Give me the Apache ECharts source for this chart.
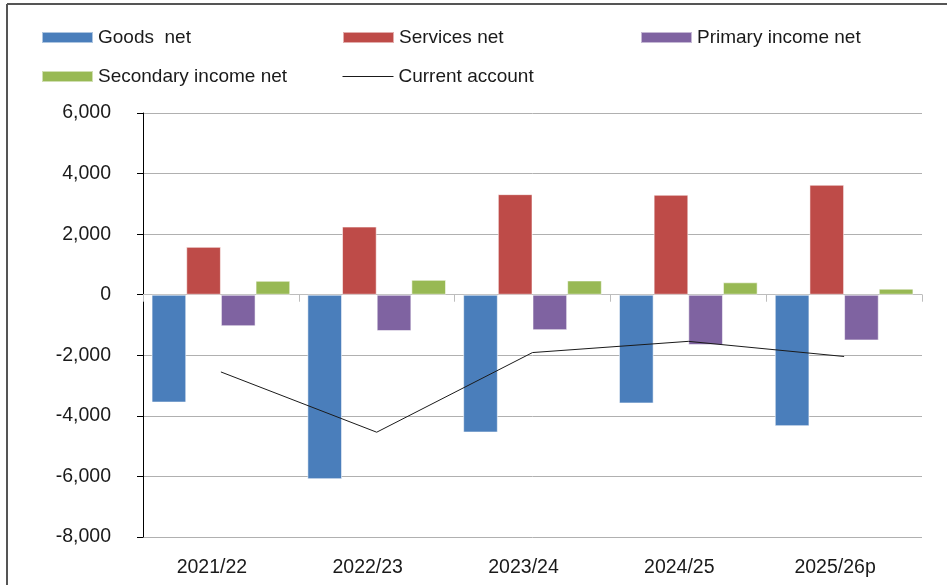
<!DOCTYPE html>
<html>
<head>
<meta charset="utf-8">
<script src="https://cdn.jsdelivr.net/npm/echarts@6/dist/echarts.min.js"></script>
<style>
  html, body { margin: 0; padding: 0; background: #fff; }
  #chart { width: 947px; height: 585px; }
</style>
</head>
<body>
<div id="chart"></div>
<script>
// Current account components by fiscal year
const categories = ['2021/22', '2022/23', '2023/24', '2024/25', '2025/26p'];
const goodsNet = [-3560, -6090, -4550, -3590, -4340];
const servicesNet = [1580, 2250, 3320, 3300, 3630];
const primaryIncomeNet = [-1040, -1200, -1170, -1660, -1510];
const secondaryIncomeNet = [460, 490, 470, 410, 200];
const currentAccount = [-2550, -4540, -1910, -1540, -2040];

const yTicks = { min: -8000, max: 6000, interval: 2000 };

const FONT = '"Liberation Sans", Arial, Helvetica, sans-serif';
const TEXT = '#1a1a1a';

const chart = echarts.init(document.getElementById('chart'), null, { renderer: 'canvas' });

function legendAt(name, left, top, icon) {
  const lg = {
    data: [name],
    left: left,
    top: top,
    padding: 0,
    itemWidth: 51,
    itemHeight: 11,
    textStyle: { fontFamily: FONT, fontSize: 19, color: TEXT },
    selectedMode: false
  };
  if (icon) {
    lg.icon = icon;
  } else {
    // plain line key, no marker
    lg.itemStyle = { opacity: 0 };
    lg.lineStyle = { color: '#1a1a1a', width: 1 };
  }
  return lg;
}

function fmt(v) {
  const s = Math.abs(v).toString().replace(/\B(?=(\d{3})+(?!\d))/g, ',');
  return (v < 0 ? '-' : '') + s;
}

const barStyle = (color) => ({
  color: color,
  borderColor: 'rgba(255,255,255,0.55)',
  borderWidth: 1
});

chart.setOption({
  animation: false,
  backgroundColor: '#fff',
  legend: [
    legendAt('Goods  net', 41, 28, 'rect'),
    legendAt('Services net', 342, 28, 'rect'),
    legendAt('Primary income net', 640, 28, 'rect'),
    legendAt('Secondary income net', 41, 67, 'rect'),
    legendAt('Current account', 342, 67)
  ],
  grid: { left: 143, right: 25, top: 113, bottom: 48, containLabel: false },
  xAxis: [
    {
      type: 'category',
      data: categories,
      axisLine: { show: true, onZero: true, lineStyle: { color: '#bdbdbd', width: 1 } },
      axisTick: { show: true, length: 7, alignWithLabel: false, lineStyle: { color: '#bdbdbd' } },
      axisLabel: { show: false },
      splitLine: { show: false }
    },
    {
      type: 'category',
      data: categories,
      position: 'bottom',
      axisLine: { show: false, onZero: false },
      axisTick: { show: false },
      axisLabel: { show: true, margin: 21, padding: [0, 18, 0, 0],
        fontFamily: FONT, fontSize: 19.5, color: TEXT },
      splitLine: { show: false }
    }
  ],
  yAxis: {
    type: 'value',
    min: yTicks.min,
    max: yTicks.max,
    interval: yTicks.interval,
    axisLine: { show: true, onZero: false, lineStyle: { color: '#000', width: 1 } },
    axisTick: { show: true, length: 6, lineStyle: { color: '#000' } },
    axisLabel: { margin: 32, fontFamily: FONT, fontSize: 19.5, color: TEXT, formatter: fmt },
    splitLine: { show: true, lineStyle: { color: '#b0b0b0', width: 1 } }
  },
  series: [
    { name: 'Goods  net', type: 'bar', data: goodsNet, itemStyle: barStyle('#4a7ebb'),
      barGap: '0%', barCategoryGap: '11%' },
    { name: 'Services net', type: 'bar', data: servicesNet, itemStyle: barStyle('#be4b48') },
    { name: 'Primary income net', type: 'bar', data: primaryIncomeNet, itemStyle: barStyle('#7f63a1') },
    { name: 'Secondary income net', type: 'bar', data: secondaryIncomeNet, itemStyle: barStyle('#98b954') },
    { name: 'Current account', type: 'line', data: currentAccount, symbol: 'none', z: 5,
      lineStyle: { color: '#1a1a1a', width: 1 }, itemStyle: { color: '#1a1a1a' } }
  ],
  graphic: [
    { type: 'line', shape: { x1: 7, y1: 4, x2: 947, y2: 4 }, style: { stroke: '#555', lineWidth: 2 } },
    { type: 'line', shape: { x1: 7, y1: 4, x2: 7, y2: 585 }, style: { stroke: '#555', lineWidth: 2 } }
  ]
});
</script>
</body>
</html>
